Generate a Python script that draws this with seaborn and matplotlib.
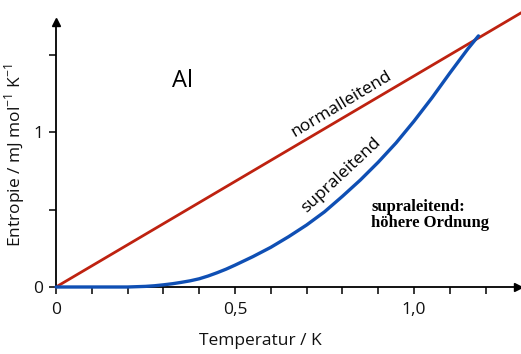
import numpy as np
import pandas as pd
import matplotlib
matplotlib.use("Agg")
import matplotlib.pyplot as plt
import seaborn as sns

# ---- data ----
normal_T = [0.0, 1.30]
normal_S = [0.0, 1.77]

supra_T = [0.0, 0.1, 0.2, 0.25, 0.275, 0.3, 0.325, 0.35, 0.375, 0.4, 0.425, 0.45,
           0.475, 0.5, 0.55, 0.6, 0.65, 0.7, 0.75, 0.8, 0.85, 0.9, 0.95, 1.0,
           1.05, 1.1, 1.15, 1.18]
supra_S = [0.0, 0.0, 0.0, 0.004, 0.008, 0.014, 0.021, 0.03, 0.04, 0.053, 0.071, 0.092,
           0.115, 0.141, 0.196, 0.256, 0.325, 0.40, 0.485, 0.585, 0.69, 0.805, 0.93, 1.07,
           1.22, 1.38, 1.535, 1.62]

x_ticks = [0.0, 0.1, 0.2, 0.3, 0.4, 0.5, 0.6, 0.7, 0.8, 0.9, 1.0, 1.1, 1.2]
x_labels = ["0", "", "", "", "", "0,5", "", "", "", "", "1,0", "", ""]
y_ticks = [0.0, 0.5, 1.0, 1.5]
y_labels = ["0", "", "1", ""]

RED = "#be2210"
BLUE = "#0f4fb4"

sns.set_theme(style="white")
plt.rcParams["font.family"] = ["Open Sans", "DejaVu Sans"]
plt.rcParams["mathtext.fontset"] = "custom"
plt.rcParams["mathtext.rm"] = "Open Sans"

fig = plt.figure(figsize=(5.21, 3.54), dpi=100)
W, H = 521, 354
x0, y0 = 56, 287
x1, y1 = 521, 10
ax = fig.add_axes([x0 / W, 1 - y0 / H, (x1 - x0) / W, (y0 - y1) / H])
px_per_T = 358.0
px_per_S = 155.0
ax.set_xlim(0, (x1 - x0) / px_per_T)
ax.set_ylim(0, (y0 - y1) / px_per_S)

df_n = pd.DataFrame({"T": normal_T, "S": normal_S})
df_s = pd.DataFrame({"T": supra_T, "S": supra_S})
sns.lineplot(data=df_n, x="T", y="S", ax=ax, color=RED, lw=2.0,
             estimator=None, sort=False, clip_on=False)
sns.lineplot(data=df_s, x="T", y="S", ax=ax, color=BLUE, lw=2.4,
             estimator=None, sort=False, clip_on=False, zorder=3)

# axes styling
for s in ["top", "right"]:
    ax.spines[s].set_visible(False)
xmax_axis = (518 - x0) / px_per_T
ymax_axis = (y0 - 22) / px_per_S
ax.spines["bottom"].set_bounds(0, xmax_axis)
ax.spines["left"].set_bounds(0, ymax_axis)
for s in ["bottom", "left"]:
    ax.spines[s].set_color("black")
    ax.spines[s].set_linewidth(1.3)
ax.plot([xmax_axis], [0], marker=">", color="black", ms=6, clip_on=False, zorder=5)
ax.plot([0], [ymax_axis], marker="^", color="black", ms=6, clip_on=False, zorder=5)

ax.set_xticks(x_ticks)
ax.set_xticklabels(x_labels)
ax.set_yticks(y_ticks)
ax.set_yticklabels(y_labels)
ax.tick_params(axis="both", direction="out", length=5, width=1.1, color="black",
               labelsize=12.5, labelcolor="#111111", bottom=True, left=True)
ax.tick_params(axis="x", pad=6)
ax.tick_params(axis="y", pad=4)
ax.set_xlabel("")
ax.set_ylabel("")

fig.text(260 / W, 1 - 341 / H, "Temperatur / K", ha="center", va="center",
         fontsize=12.5, color="#111111")
fig.text(15 / W, 1 - 155 / H, r"Entropie / mJ mol$^{-1}$ K$^{-1}$", ha="center",
         va="center", rotation=90, fontsize=12.5, color="#111111")

fig.text(183 / W, 1 - 81 / H, "Al", ha="center", va="center", fontsize=17,
         color="black")
fig.text(342 / W, 1 - 104 / H, "normalleitend", ha="center", va="center",
         rotation=31, rotation_mode="anchor", fontsize=12.5, color="black")
fig.text(341 / W, 1 - 175 / H, "supraleitend", ha="center", va="center",
         rotation=43, rotation_mode="anchor", fontsize=12.5, color="black")
fig.text(371 / W, 1 - 215 / H, "supraleitend:\nhöhere Ordnung", ha="left",
         va="center", fontsize=12, fontweight="bold",
         family=["Liberation Serif", "DejaVu Serif"], color="black",
         linespacing=1.0)

fig.savefig("out.png", dpi=100, facecolor="white")
